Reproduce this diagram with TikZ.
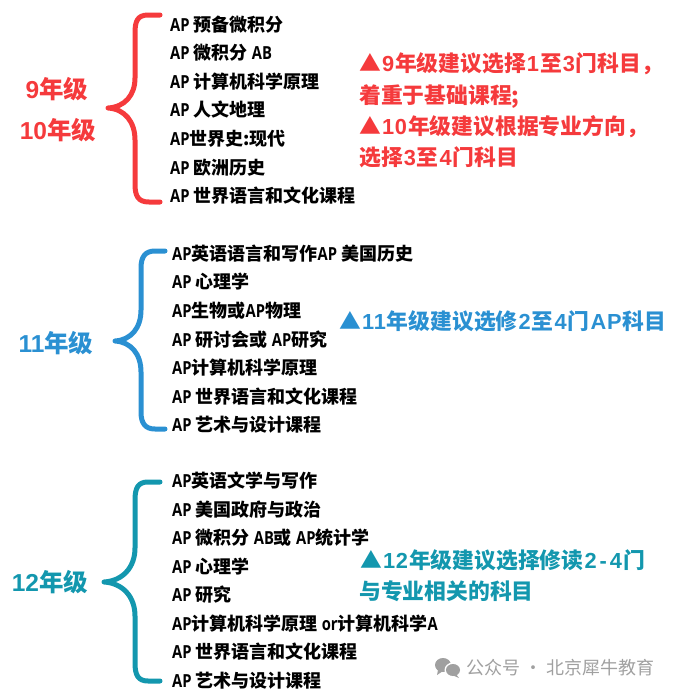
\documentclass[tikz,border=0pt]{standalone}
\usepackage{fontspec}
\setmainfont{Noto Sans CJK SC}
\newfontfamily\latf[FakeStretch=0.82]{Open Sans}
\newfontfamily\digf{Liberation Sans}
\newfontfamily\digs[LetterSpace=4]{Liberation Sans}
\newcommand\lt[1]{{\latf\fontsize{18}{18}\selectfont #1}}
\newcommand\dg[1]{{\digf\bfseries #1}}
\newcommand\dn[1]{\kern1pt{\digs\bfseries #1}\kern1pt}
\definecolor{cred}{HTML}{F53A3C}
\definecolor{cblue}{HTML}{2A90D2}
\definecolor{cteal}{HTML}{1397AE}
\definecolor{cgray}{HTML}{A0A0A0}
\tikzset{
  item/.style={anchor=west,inner sep=0pt,text=black,font=\fontsize{18}{18}\selectfont\bfseries},
  grade/.style={anchor=center,inner sep=0pt,font=\fontsize{24.5}{24.5}\selectfont\bfseries},
  note/.style={anchor=west,inner sep=0pt,font=\fontsize{21.8}{21.8}\selectfont\bfseries},
  brace/.style={line width=5pt,line cap=round,line join=round},
}
\begin{document}
\begin{tikzpicture}[x=1pt,y=-1pt]
\useasboundingbox (0,0) rectangle (676,696);
% ---------- group 1
\coordinate (rt) at (160,15);
\coordinate (rm) at (108,108);
\coordinate (rb) at (160,202);
\draw[brace,cred] (rt) -- (148,15) .. controls (137,15) and (135,22) .. (135,33)
  -- (135,78) .. controls (135,95) and (125,107) .. (rm)
  .. controls (125,109) and (135,122) .. (135,140)
  -- (135,184) .. controls (135,196) and (138,202) .. (149,202) -- (rb);
\node[grade,text=cred] (g9) at (57,89) {\dg{9}年级};
\node[grade,text=cred] (g10) at (58,130) {\dg{10}年级};
\foreach \n/\y/\t in {a1/25/{\lt{AP} 预备微积分},a2/53/{\lt{AP} 微积分 \lt{AB}},a3/82/{\lt{AP} 计算机科学原理},a4/110/{\lt{AP} 人文地理},a5/139/{\lt{AP}世界史:现代},a6/168/{\lt{AP} 欧洲历史},a7/196/{\lt{AP} 世界语言和文化课程}}
  \node[item] (\n) at (170,\y) {\t};
\node[note,text=cred] (n1) at (359,64) {▲\dn{9}年级建议选择\dn{1}至\dn{3}门科目，};
\node[note,text=cred] (n2) at (359,97) {着重于基础课程;};
\node[note,text=cred] (n3) at (359,127) {▲\dn{10}年级建议根据专业方向，};
\node[note,text=cred] (n4) at (359,157) {选择\dn{3}至\dn{4}门科目};
% ---------- group 2
\coordinate (bt) at (165,251);
\coordinate (bm) at (115,341);
\coordinate (bb) at (165,429);
\draw[brace,cblue] (bt) -- (155,251) .. controls (145,251) and (141,257) .. (141,268)
  -- (141,310) .. controls (141,328) and (131,340) .. (bm)
  .. controls (131,342) and (141,354) .. (141,372)
  -- (141,412) .. controls (141,423) and (145,429) .. (155,429) -- (bb);
\node[grade,text=cblue] (g11) at (56,343) {\dg{11}年级};
\foreach \n/\y/\t in {b1/254/{\lt{AP}英语语言和写作\lt{AP} 美国历史},b2/282/{\lt{AP} 心理学},b3/311/{\lt{AP}生物或\lt{AP}物理},b4/340/{\lt{AP} 研讨会或 \lt{AP}研究},b5/368/{\lt{AP}计算机科学原理},b6/397/{\lt{AP} 世界语言和文化课程},b7/425/{\lt{AP} 艺术与设计课程}}
  \node[item] (\n) at (172,\y) {\t};
\node[note,text=cblue] (n5) at (339,321) {▲\dn{11}年级建议选修\dn{2}至\dn{4}门\dn{AP}科目};
% ---------- group 3
\coordinate (ct) at (160,482);
\coordinate (cm) at (104,582);
\coordinate (cb) at (160,681);
\draw[brace,cteal] (ct) -- (148,482) .. controls (138,482) and (135,488) .. (135,500)
  -- (135,548) .. controls (135,568) and (122,581) .. (cm)
  .. controls (122,583) and (135,596) .. (135,616)
  -- (135,663) .. controls (135,675) and (138,681) .. (148,681) -- (cb);
\node[grade,text=cteal] (g12) at (50,582) {\dg{12}年级};
\foreach \n/\y/\t in {c1/481/{\lt{AP}英语文学与写作},c2/510/{\lt{AP} 美国政府与政治},c3/538/{\lt{AP} 微积分 \lt{AB}或 \lt{AP}统计学},c4/567/{\lt{AP} 心理学},c5/595/{\lt{AP} 研究},c6/624/{\lt{AP}计算机科学原理 \lt{or}计算机科学\lt{A}},c7/652/{\lt{AP} 世界语言和文化课程},c8/681/{\lt{AP} 艺术与设计课程}}
  \node[item] (\n) at (172,\y) {\t};
\node[note,text=cteal] (n6) at (360,560) {▲\dn{12}年级建议选择修读\dn{2\kern3pt-\kern3pt 4}门};
\node[note,text=cteal] (n7) at (359,591) {与专业相关的科目};
% ---------- watermark
\fill[cgray] (443,665) ellipse (8pt and 7pt);
\fill[cgray] (438,670) -- (437,675) -- (443,671) -- cycle;
\fill[white] (453,670) ellipse (8.5pt and 7.5pt);
\fill[cgray] (453,670) ellipse (7pt and 6pt);
\fill[cgray] (456,674) -- (459,678) -- (452,675) -- cycle;
\node[anchor=west,inner sep=0pt,text=cgray,font=\fontsize{18}{18}\selectfont] (wm) at (466,668) {公众号 · 北京犀牛教育};
\end{tikzpicture}
\end{document}
